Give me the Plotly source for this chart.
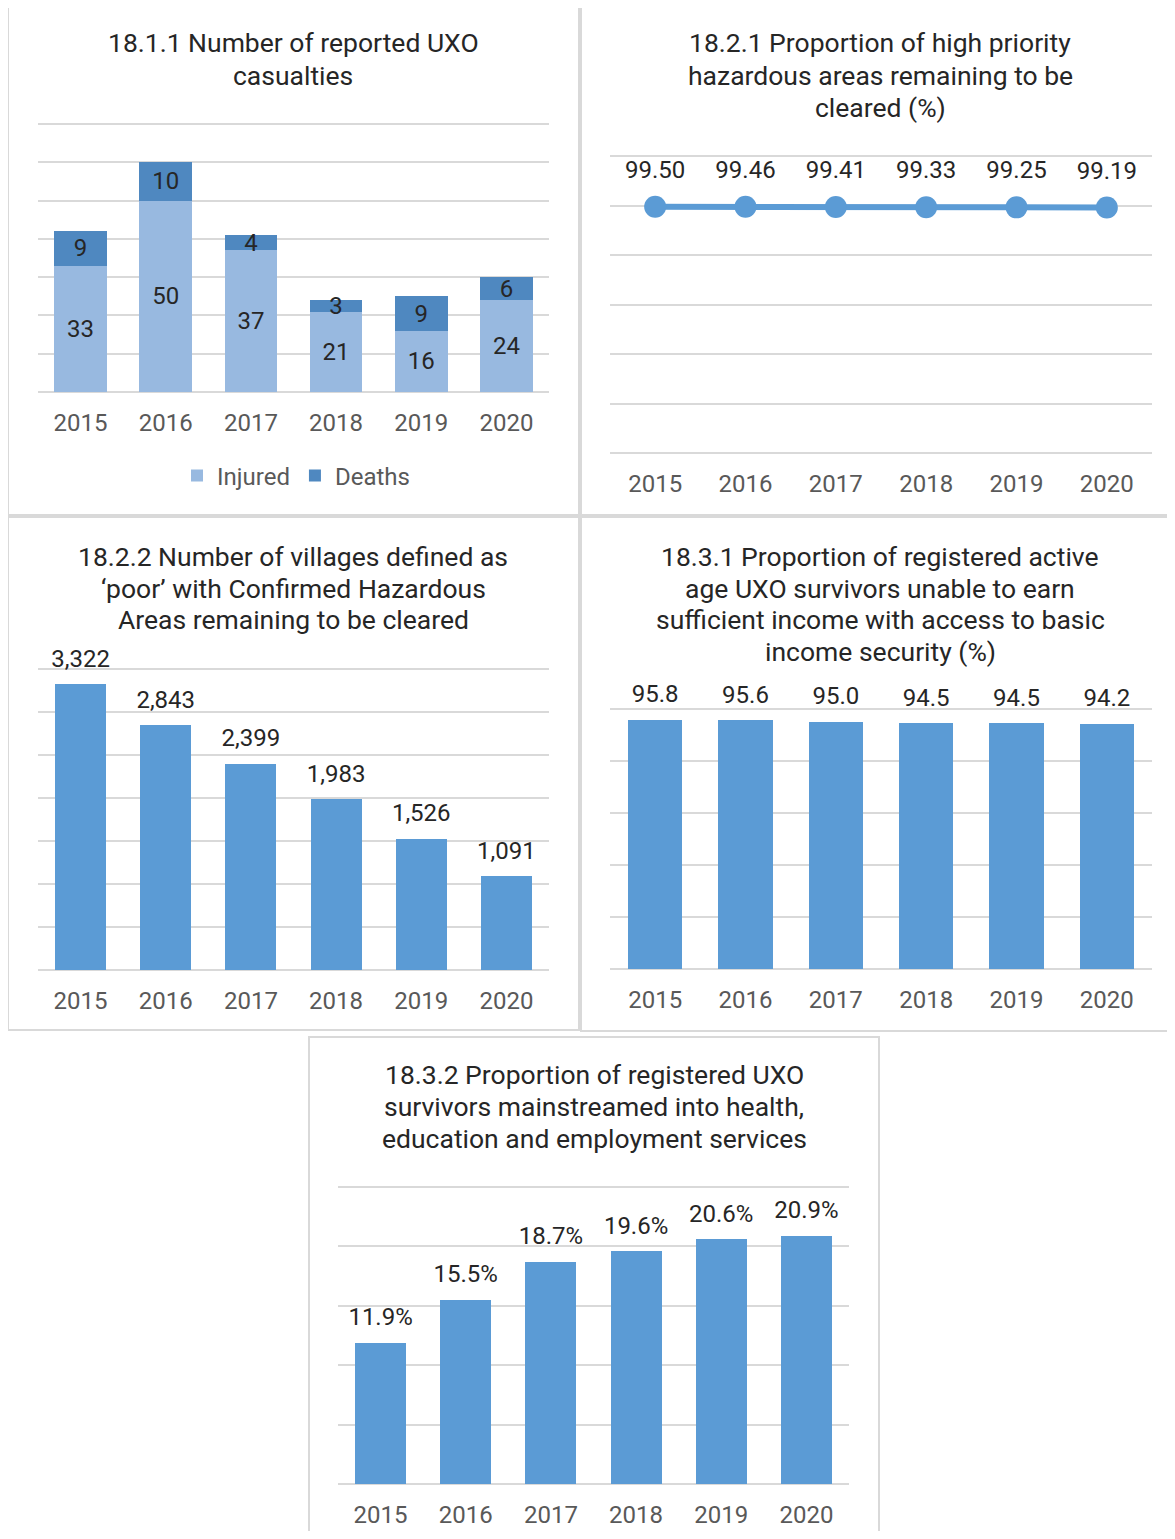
import plotly.graph_objects as go

# page body has an 8px margin, so the figure is 16px smaller than the window
OFF = 8
W, H = 1175 - 2 * OFF, 1539 - 2 * OFF

years = ["2015", "2016", "2017", "2018", "2019", "2020"]
injured = [33, 50, 37, 21, 16, 24]
deaths = [9, 10, 4, 3, 9, 6]
hazard_pct = [99.50, 99.46, 99.41, 99.33, 99.25, 99.19]
poor_villages = [3322, 2843, 2399, 1983, 1526, 1091]
income_pct = [95.8, 95.6, 95.0, 94.5, 94.5, 94.2]
mainstream_pct = [11.9, 15.5, 18.7, 19.6, 20.6, 20.9]

titles = [
    ["18.1.1 Number of reported UXO", "casualties"],
    ["18.2.1 Proportion of high priority", "hazardous areas remaining to be", "cleared (%)"],
    ["18.2.2 Number of villages defined as", "‘poor’ with Confirmed Hazardous", "Areas remaining to be cleared"],
    ["18.3.1 Proportion of registered active", "age UXO survivors unable to earn",
     "sufficient income with access to basic", "income security (%)"],
    ["18.3.2 Proportion of registered UXO", "survivors mainstreamed into health,",
     "education and employment services"],
]

bar_blue = "#5b9bd5"
light_blue = "#98b9e0"
dark_blue = "#4f88c0"
grid_col = "#d9d9d9"
text_col = "#262626"
tick_col = "#595959"
FONT = "Roboto"
FS = 24
TITLE_FS = 26.5
EXT = 1.03  # axis runs a bit past the top gridline so that line gets drawn


def px_x(v):
    return (v - OFF) / W


def px_y(v):
    return 1 - (v - OFF) / H


# panel geometry in screen pixels: border box, plot area (top gridline / baseline),
# title centre x / first line y
panels = [
    dict(box=(8, 7, 579, 515), plot=(38, 124, 549, 392), tx=293, ty=43, vmax=70, dtick=10),
    dict(box=(581, 7, 1180, 515), plot=(610, 156, 1152, 453), tx=880, ty=43, vmax=120, dtick=20),
    dict(box=(8, 517, 579, 1030), plot=(38, 669, 549, 970), tx=293, ty=556, vmax=3500, dtick=500),
    dict(box=(581, 517, 1180, 1031), plot=(610, 709, 1152, 969), tx=880, ty=556, vmax=100, dtick=20),
    dict(box=(309, 1037, 879, 1550), plot=(338, 1187, 849, 1484), tx=594, ty=1074, vmax=25, dtick=5),
]
LINE_H = 32

fig = go.Figure()

# 18.1.1 stacked bars
fig.add_trace(go.Bar(
    x=years, y=injured, name="Injured", width=0.62,
    marker=dict(color=light_blue, line=dict(width=0)),
    text=injured, textposition="inside", insidetextanchor="middle",
    textangle=0, constraintext="none",
    textfont=dict(color=text_col, size=FS, family=FONT),
    xaxis="x", yaxis="y", cliponaxis=False,
))
fig.add_trace(go.Bar(
    x=years, y=deaths, name="Deaths", width=0.62,
    marker=dict(color=dark_blue, line=dict(width=0)),
    text=deaths, textposition="inside", insidetextanchor="middle",
    textangle=0, constraintext="none",
    textfont=dict(color=text_col, size=FS, family=FONT),
    xaxis="x", yaxis="y", cliponaxis=False,
))

# 18.2.1 line
fig.add_trace(go.Scatter(
    x=years, y=hazard_pct, mode="lines+markers", showlegend=False,
    line=dict(color=bar_blue, width=6), marker=dict(color=bar_blue, size=22),
    xaxis="x2", yaxis="y2", cliponaxis=False,
))
fig.add_trace(go.Scatter(
    x=years, y=hazard_pct, mode="markers+text", showlegend=False,
    marker=dict(color="rgba(0,0,0,0)", size=35),
    texttemplate="%{y:.2f}", textposition="top center",
    textfont=dict(color=text_col, size=FS, family=FONT),
    xaxis="x2", yaxis="y2", cliponaxis=False, hoverinfo="skip",
))


def bar_panel(vals, ax, fmt):
    fig.add_trace(go.Bar(
        x=years, y=vals, width=0.6, showlegend=False,
        marker=dict(color=bar_blue, line=dict(width=0)),
        xaxis="x" + ax, yaxis="y" + ax,
    ))
    fig.add_trace(go.Scatter(
        x=years, y=vals, mode="markers+text", showlegend=False,
        marker=dict(color="rgba(0,0,0,0)", size=17),
        texttemplate=fmt, textposition="top center",
        textfont=dict(color=text_col, size=FS, family=FONT),
        xaxis="x" + ax, yaxis="y" + ax, cliponaxis=False, hoverinfo="skip",
    ))


bar_panel(poor_villages, "3", "%{y:,.0f}")
bar_panel(income_pct, "4", "%{y:.1f}")
bar_panel(mainstream_pct, "5", "%{y:.1f}%")

layout = dict(
    width=W, height=H, margin=dict(l=0, r=0, t=0, b=0),
    paper_bgcolor="white", plot_bgcolor="white",
    barmode="stack",
    font=dict(family=FONT, color=text_col, size=FS),
    legend=dict(
        orientation="h", traceorder="normal", itemwidth=30,
        x=px_x(296), xanchor="center", y=px_y(476), yanchor="middle",
        font=dict(color=tick_col, size=FS, family=FONT), itemclick=False,
    ),
    shapes=[], annotations=[],
)

for i, p in enumerate(panels):
    sfx = "" if i == 0 else str(i + 1)
    x0, y0, x1, y1 = p["plot"]
    top = y1 - (y1 - y0) * EXT
    layout["xaxis" + sfx] = dict(
        domain=[px_x(x0), px_x(x1)], anchor="y" + sfx, type="category",
        range=[-0.5, len(years) - 0.5],
        showgrid=False, showline=False, zeroline=False, ticks="",
        ticklabelstandoff=14,
        tickfont=dict(color=tick_col, size=FS, family=FONT),
    )
    layout["yaxis" + sfx] = dict(
        domain=[px_y(y1), px_y(top)], anchor="x" + sfx,
        range=[0, p["vmax"] * EXT], dtick=p["dtick"], tick0=0,
        showticklabels=False, showgrid=True, gridcolor=grid_col, gridwidth=2,
        zeroline=True, zerolinecolor=grid_col, zerolinewidth=2, showline=False,
        fixedrange=True,
    )
    bx0, by0, bx1, by1 = p["box"]
    layout["shapes"].append(dict(
        type="rect", xref="paper", yref="paper",
        x0=px_x(bx0), x1=px_x(bx1), y0=px_y(by1), y1=px_y(by0),
        line=dict(color=grid_col, width=2), layer="below",
    ))
    for k, line in enumerate(titles[i]):
        layout["annotations"].append(dict(
            text=line, xref="paper", yref="paper",
            x=px_x(p["tx"]), y=px_y(p["ty"] + k * LINE_H),
            xanchor="center", yanchor="middle", showarrow=False,
            font=dict(color=text_col, size=TITLE_FS, family=FONT),
        ))

fig.update_layout(**layout)
fig.write_html("out.html")
